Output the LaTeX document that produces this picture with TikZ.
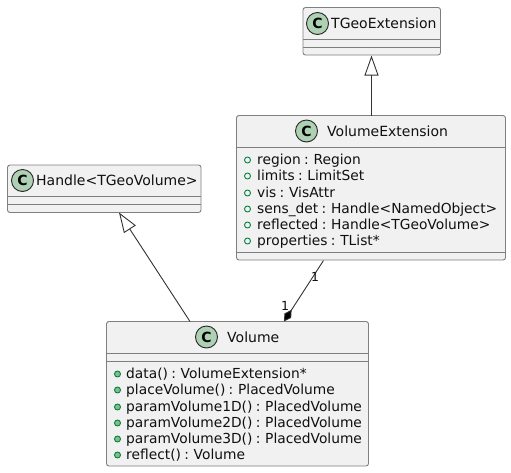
\documentclass[tikz,border=0pt]{standalone}
\usepackage{fontspec}
\setmainfont[WordSpace=0.75]{DejaVu Sans}
\usetikzlibrary{arrows.meta}
\definecolor{boxfill}{HTML}{F1F1F1}
\definecolor{boxline}{HTML}{7F7F7F}
\definecolor{spotfill}{HTML}{ADD1B2}
\definecolor{markline}{HTML}{038048}
\definecolor{markfill}{HTML}{84BE84}
\definecolor{inktext}{HTML}{101010}
\definecolor{edgeink}{HTML}{333333}
\tikzset{
  x=1pt,y=-1pt,
  classbox/.style={draw=boxline,fill=boxfill,line width=0.9pt,rounded corners=2.5pt,anchor=north west,inner sep=0pt,outer sep=0pt},
  divider/.style={draw=boxline,line width=0.9pt},
  spot/.style={circle,draw=black!85,fill=spotfill,line width=0.9pt,minimum size=22pt,inner sep=0pt,font=\fontsize{14}{14}\selectfont\bfseries,text=black},
  title/.style={anchor=base west,inner sep=0pt,font=\fontsize{14}{14}\selectfont,text=inktext},
  member/.style={anchor=base west,inner sep=0pt,font=\fontsize{13.8}{14}\selectfont,text=inktext},
  fieldmark/.style={circle,draw=markline,line width=0.9pt,minimum size=6pt,inner sep=0pt},
  methodmark/.style={circle,draw=markline,fill=markfill,line width=0.9pt,minimum size=6pt,inner sep=0pt},
  edge/.style={draw=edgeink,line width=0.9pt},
  inherit/.style={edge,{Triangle[open,length=20pt,width=14pt,fill=white,line width=0.9pt]}-},
  compose/.style={edge,-{Diamond[length=14pt,width=8pt,fill=black]}},
  mult/.style={inner sep=0pt,font=\fontsize{12.5}{13}\selectfont,text=inktext},
}
\begin{document}
\begin{tikzpicture}
\useasboundingbox (0,0) rectangle (511,472);
% boxes
\node[classbox,minimum width=137.5pt,minimum height=47.5pt] (tgeo) at (303,7.5) {};
\node[classbox,minimum width=269pt,minimum height=144.5pt] (vext) at (236.5,115.5) {};
\node[classbox,minimum width=193.5pt,minimum height=47.5pt] (hand) at (7.5,165) {};
\node[classbox,minimum width=262pt,minimum height=144.5pt] (vol) at (106.5,321.5) {};
% dividers
\draw[divider] (303,39.5) -- (440.5,39.5) (303,47.5) -- (440.5,47.5);
\draw[divider] (236.5,147) -- (505.5,147) (236.5,252) -- (505.5,252);
\draw[divider] (7.5,196.5) -- (201,196.5) (7.5,204.5) -- (201,204.5);
\draw[divider] (106.5,353) -- (368.5,353) (106.5,361) -- (368.5,361);
% spots
\node[spot] (s1) at (317.5,23.5) {C};
\node[spot] (s2) at (306.5,131) {C};
\node[spot] (s3) at (22.5,180.5) {C};
\node[spot] (s4) at (206.5,337) {C};
% titles
\node[title] (t1) at (331,28.3) {TGeoExtension};
\node[title] (t2) at (327,136) {VolumeExtension};
\node[title] (t3) at (36,185.5) {Handle<TGeoVolume>};
\node[title] (t4) at (227,342) {Volume};
% fields
\node[fieldmark] (f1m) at (247.5,160) {}; \node[member] (f1) at (257,164) {region : Region};
\node[fieldmark] (f2m) at (247.5,176) {}; \node[member] (f2) at (257,180) {limits : LimitSet};
\node[fieldmark] (f3m) at (247.5,193) {}; \node[member] (f3) at (257,197) {vis : VisAttr};
\node[fieldmark] (f4m) at (247.5,209) {}; \node[member] (f4) at (257,213) {sens\_det : Handle<NamedObject>};
\node[fieldmark] (f5m) at (247.5,225) {}; \node[member] (f5) at (257,229) {reflected : Handle<TGeoVolume>};
\node[fieldmark] (f6m) at (247.5,241) {}; \node[member] (f6) at (257,245) {properties : TList*};
% methods
\node[methodmark] (m1m) at (117.5,374) {}; \node[member] (m1) at (126,378) {data() : VolumeExtension*};
\node[methodmark] (m2m) at (117.5,390) {}; \node[member] (m2) at (126,394) {placeVolume() : PlacedVolume};
\node[methodmark] (m3m) at (117.5,407) {}; \node[member] (m3) at (126,411) {paramVolume1D() : PlacedVolume};
\node[methodmark] (m4m) at (117.5,423) {}; \node[member] (m4) at (126,427) {paramVolume2D() : PlacedVolume};
\node[methodmark] (m5m) at (117.5,439) {}; \node[member] (m5) at (126,443) {paramVolume3D() : PlacedVolume};
\node[methodmark] (m6m) at (117.5,455) {}; \node[member] (m6) at (126,459) {reflect() : Volume};
% connectors
\coordinate (a1) at (371.5,55.5);
\coordinate (a2) at (371.5,115.5);
\coordinate (b1) at (119,212.5);
\coordinate (b2) at (190,321.5);
\coordinate (c1) at (323.5,260.5);
\coordinate (c2) at (284,321.5);
\draw[inherit] (a1) -- (a2);
\draw[inherit] (b1) -- (b2);
\draw[compose] (c1) -- (c2);
\node[mult] (l1) at (315,276.5) {1};
\node[mult] (l2) at (285,305.5) {1};
\end{tikzpicture}
\end{document}
